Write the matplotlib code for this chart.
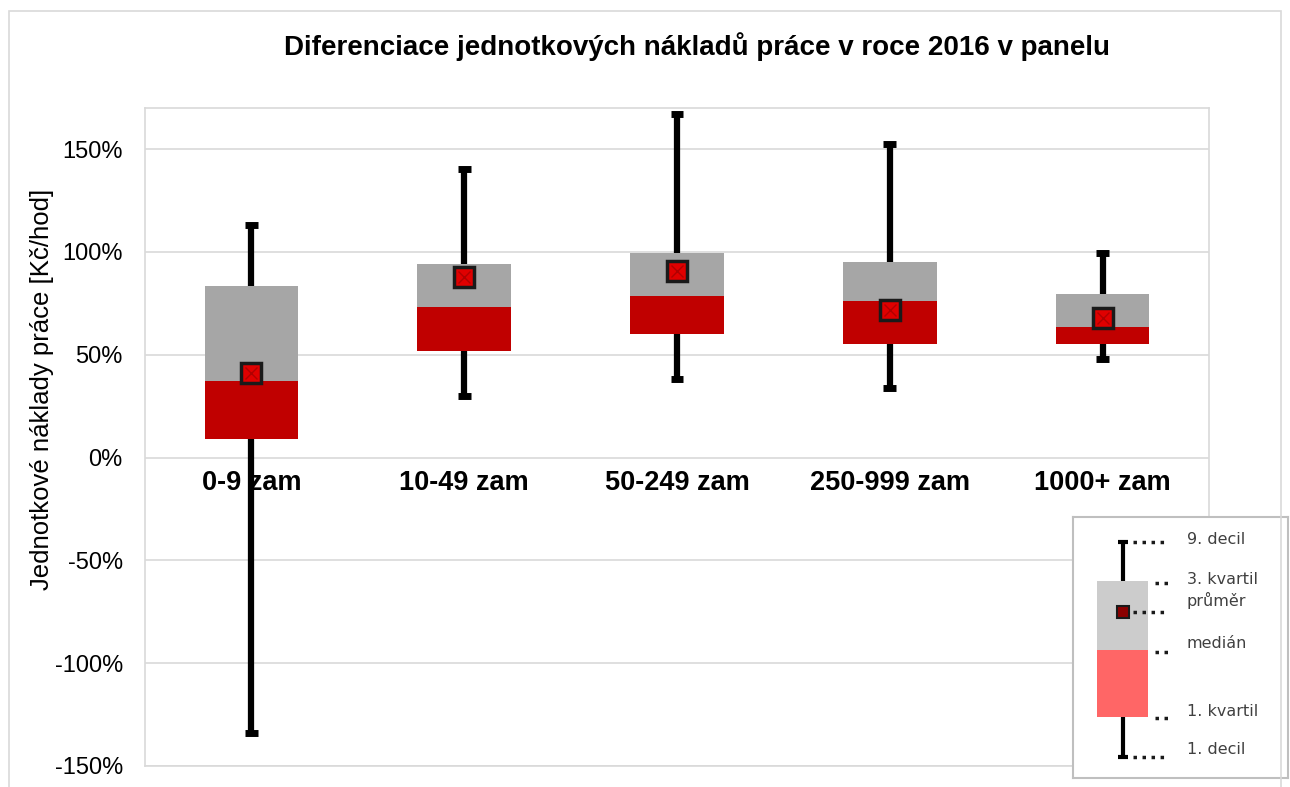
import matplotlib
matplotlib.use('Agg')
import matplotlib.pyplot as plt
from matplotlib.patches import Rectangle

plt.rcParams['font.family'] = ['Liberation Sans', 'DejaVu Sans']

# Data (percent)
categories = ['0-9 zam', '10-49 zam', '50-249 zam', '250-999 zam', '1000+ zam']
decil_1 = [-134, 30, 38, 34, 48]
kvartil_1 = [9, 52, 60, 55, 55]
median = [37, 73, 78.5, 76, 63.5]
kvartil_3 = [83.5, 94, 99.5, 95, 79.5]
decil_9 = [113, 140.5, 167, 152.5, 99.5]
mean = [41, 88, 90.5, 72, 68]

yticks = [-150, -100, -50, 0, 50, 100, 150]

# Schematic values for the explanation box
legend_labels = ['9. decil', '3. kvartil', 'průměr', 'medián', '1. kvartil', '1. decil']
legend_stats = [236, 197, 166, 128, 61, 21]   # 9.d, Q3, mean, median, Q1, 1.d

GREY = '#A6A6A6'
RED = '#C00000'
GRID = '#D9D9D9'

fig = plt.figure(figsize=(12.9, 7.87), dpi=100)

# outer chart frame
fig.patches.append(Rectangle((9 / 1290, -0.02), 1272 / 1290, 1 - 11 / 787 + 0.02,
                             transform=fig.transFigure, fill=False,
                             edgecolor=GRID, linewidth=1.2))

ax = fig.add_axes([145 / 1290, 21 / 787, 1064 / 1290, 658 / 787])
ax.set_xlim(-0.5, len(categories) - 0.5)
ax.set_ylim(-150, 170)

box_w = 0.44
for i, cat in enumerate(categories):
    # whisker
    ax.plot([i, i], [decil_1[i], decil_9[i]], color='black', lw=4.5,
            solid_capstyle='butt', zorder=2)
    for v in (decil_1[i], decil_9[i]):
        ax.plot([i - 0.03, i + 0.03], [v, v], color='black', lw=5,
                solid_capstyle='butt', zorder=2)
    # box
    ax.add_patch(Rectangle((i - box_w / 2, median[i]), box_w,
                           kvartil_3[i] - median[i], facecolor=GREY,
                           edgecolor='none', zorder=3))
    ax.add_patch(Rectangle((i - box_w / 2, kvartil_1[i]), box_w,
                           median[i] - kvartil_1[i], facecolor=RED,
                           edgecolor='none', zorder=3))
    # mean marker
    ax.plot(i, mean[i], marker='s', ms=15, mfc='#E00000', mec='#1A1A1A',
            mew=2.5, zorder=4)
    ax.plot(i, mean[i], marker='x', ms=8, mec='#B00000', mew=1.0, zorder=5)
    # category label
    ax.text(i, -6, cat, ha='center', va='top', fontsize=19.5,
            fontweight='bold', zorder=6)

ax.set_yticks(yticks)
ax.set_yticklabels(['%d%%' % t for t in yticks], fontsize=17)
ax.set_xticks([])
ax.tick_params(axis='y', length=0, pad=16)
ax.grid(axis='y', color=GRID, lw=1.2, zorder=0)
ax.set_axisbelow(True)
for s in ax.spines.values():
    s.set_color(GRID)
    s.set_linewidth(1.2)

fig.text(42 / 1290, 1 - 389 / 787, 'Jednotkové náklady práce [Kč/hod]',
         rotation=90, ha='center', va='center', fontsize=18.5)

fig.text(697 / 1290, 1 - 47 / 787, 'Diferenciace jednotkových nákladů práce v roce 2016 v panelu',
         ha='center', va='center', fontsize=20, fontweight='bold')

# explanation box
lg = fig.add_axes([1073 / 1290, 9 / 787, 215 / 1290, 261 / 787])
lg.set_xlim(0, 215)
lg.set_ylim(0, 261)
lg.set_xticks([])
lg.set_yticks([])
for s in lg.spines.values():
    s.set_color('#BFBFBF')
    s.set_linewidth(1.5)
d9, q3, mu, med, q1, d1 = legend_stats
bx = 50
lg.plot([bx, bx], [d1, d9], color='black', lw=3, solid_capstyle='butt', zorder=1)
for v in (d1, d9):
    lg.plot([bx - 5, bx + 5], [v, v], color='black', lw=3, solid_capstyle='butt')
lg.add_patch(Rectangle((24, med), 51, q3 - med, facecolor='#CCCCCC',
                       edgecolor='none', zorder=2))
lg.add_patch(Rectangle((24, q1), 51, med - q1, facecolor='#FF6666',
                       edgecolor='none', zorder=2))
lg.plot(bx, mu, marker='s', ms=8, mfc='#8B0000', mec='#1A1A1A', mew=1.5, zorder=3)
dot = dict(color='#1A1A1A', lw=2.5, linestyle=(0, (1, 1.6)))
lg.plot([60, 96], [d9, d9], **dot)
lg.plot([82, 100], [q3 - 2, q3 - 2], **dot)
lg.plot([60, 96], [mu, mu], **dot)
lg.plot([82, 95], [med - 2, med - 2], **dot)
lg.plot([82, 100], [q1 - 1, q1 - 1], **dot)
lg.plot([60, 96], [d1, d1], **dot)
label_y = [238, 199, 178, 134, 67, 28]
for lab, y in zip(legend_labels, label_y):
    lg.text(114, y, lab, fontsize=11.5, color='#404040', va='center',
            family=['DejaVu Sans'])

fig.savefig('out.png', dpi=100)
